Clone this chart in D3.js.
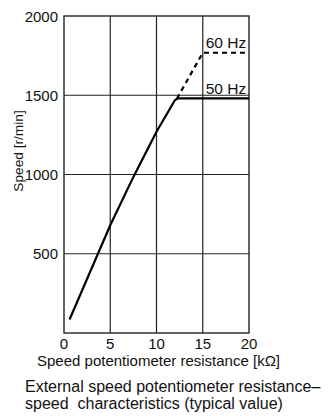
<!DOCTYPE html>
<html>
<head>
<meta charset="utf-8">
<script src="https://cdn.jsdelivr.net/npm/d3@7"></script>
<style>
  body { margin: 0; background: #fff; }
  text { font-family: "Liberation Sans", Arial, sans-serif; fill: #111; white-space: pre; }
</style>
</head>
<body>
<div id="chart"></div>
<script>
// chart data
let xTicks = [0, 5, 10, 15, 20]
let yTicks = [500, 1000, 1500, 2000]

// 50 Hz (solid) curve: resistance kΩ, speed r/min
let res50 = [0.6, 5, 7.5, 10, 12.0, 12.3, 20]
let speed50 = [85, 680, 985, 1270, 1470, 1480, 1480]

// 60 Hz (dashed) continuation from the knee
let res60 = [12.2, 15, 20]
let speed60 = [1478, 1768, 1768]

let seriesLabels = ["60 Hz", "50 Hz"]

let margin = { top: 16, left: 64, right: 86, bottom: 83 }
let width = 335
let height = 416
let w = width - margin.left - margin.right
let h = height - margin.top - margin.bottom

let svg = d3.select("#chart")
    .append("svg")
    .attr("width", width)
    .attr("height", height)

let g = svg.append("g")
    .attr("transform", `translate(${margin.left},${margin.top})`)

let x = d3.scaleLinear().domain([0, 20]).range([0, w])
let y = d3.scaleLinear().domain([0, 2000]).range([h, 0])

// grid
g.selectAll(".vgrid")
    .data(xTicks.slice(1, -1))
    .enter()
    .append("line")
    .attr("x1", d => x(d)).attr("x2", d => x(d))
    .attr("y1", 0).attr("y2", h)
    .attr("stroke", "#222").attr("stroke-width", 1.2)

g.selectAll(".hgrid")
    .data(yTicks.slice(0, -1))
    .enter()
    .append("line")
    .attr("x1", 0).attr("x2", w)
    .attr("y1", d => y(d)).attr("y2", d => y(d))
    .attr("stroke", "#222").attr("stroke-width", 1.2)

g.append("rect")
    .attr("width", w).attr("height", h)
    .attr("fill", "none")
    .attr("stroke", "#222").attr("stroke-width", 1.4)

// tick labels
g.selectAll(".xlab")
    .data(xTicks)
    .enter()
    .append("text")
    .attr("x", d => x(d))
    .attr("y", h + 16)
    .attr("text-anchor", "middle")
    .attr("font-size", 15)
    .text(d => d)

g.selectAll(".ylab")
    .data(yTicks)
    .enter()
    .append("text")
    .attr("x", -6)
    .attr("y", d => y(d) + 5.5)
    .attr("text-anchor", "end")
    .attr("font-size", 15)
    .text(d => d)

// curves
let line = d3.line().x(d => x(d[0])).y(d => y(d[1]))

g.append("path")
    .datum(res50.map((r, i) => [r, speed50[i]]))
    .attr("d", line)
    .attr("fill", "none")
    .attr("stroke", "#000")
    .attr("stroke-width", 2.2)
    .attr("stroke-linejoin", "round")

g.append("path")
    .datum(res60.map((r, i) => [r, speed60[i]]))
    .attr("d", line)
    .attr("fill", "none")
    .attr("stroke", "#000")
    .attr("stroke-width", 2.2)
    .attr("stroke-dasharray", "5,4")

// series labels
g.append("text")
    .attr("x", x(15) + 3)
    .attr("y", y(speed60[2]) - 5)
    .attr("font-size", 15.5)
    .text(seriesLabels[0])

g.append("text")
    .attr("x", x(15) + 3)
    .attr("y", y(speed50[6]) - 4)
    .attr("font-size", 15.5)
    .text(seriesLabels[1])

// axis titles
svg.append("text")
    .attr("transform", "translate(23,151) rotate(-90)")
    .attr("text-anchor", "middle")
    .attr("font-size", 13.7)
    .text("Speed [r/min]")

svg.append("text")
    .attr("x", 37)
    .attr("y", 366)
    .attr("font-size", 15)
    .text("Speed potentiometer resistance [kΩ]")

// caption
svg.append("text")
    .attr("x", 25)
    .attr("y", 392)
    .attr("font-size", 16)
    .text("External speed potentiometer resistance–")

svg.append("text")
    .attr("x", 25)
    .attr("y", 409)
    .attr("font-size", 16)
    .text("speed  characteristics (typical value)")
</script>
</body>
</html>
